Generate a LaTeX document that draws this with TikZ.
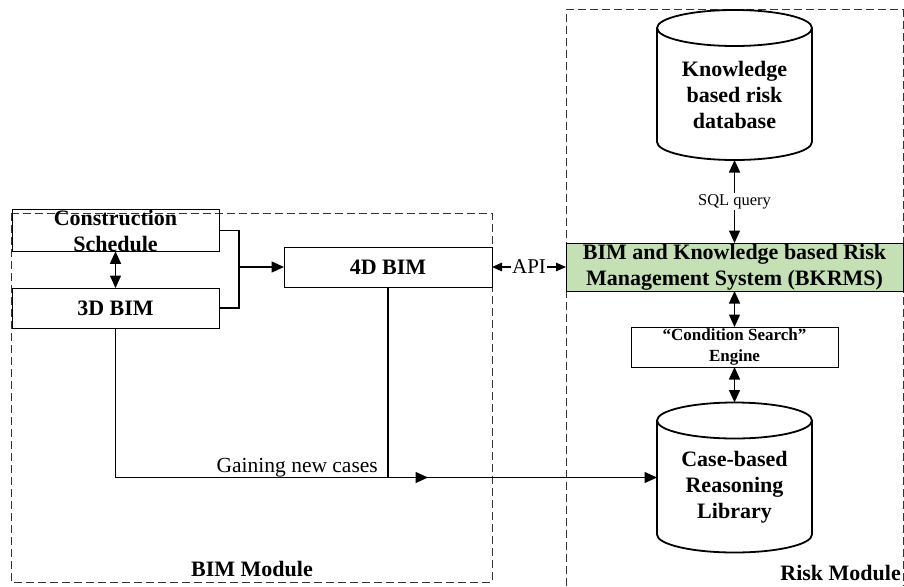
\documentclass[tikz,border=0pt]{standalone}
\usepackage{fontspec}
\setmainfont{Liberation Serif}
\usetikzlibrary{arrows.meta,calc}
\definecolor{bkgreen}{RGB}{197,224,180}
\newcommand\bigbf{\fontsize{22}{26}\selectfont\bfseries}
\newcommand\midbf{\fontsize{17}{21}\selectfont\bfseries}
\newcommand\drawcyl[1]{%
  \draw[cylline] ($(#1.north)+(0,18)$) ellipse[x radius=77.5pt, y radius=18pt];
  \draw[cylline] ($(#1.north west)+(0,18)$) -- ($(#1.south west)+(0,-18)$)
     arc[start angle=180, end angle=360, x radius=77.5pt, y radius=18pt]
     -- ($(#1.north east)+(0,18)$);
}
\tikzset{
  box/.style={draw, line width=1pt, inner sep=0pt, outer sep=0pt, align=center, font=\bigbf},
  cylbox/.style={inner sep=0pt, outer sep=0pt, minimum width=155pt, minimum height=150pt},
  cyltext/.style={inner sep=0pt, align=center, font=\bigbf},
  cylline/.style={line width=1.8pt},
  conn/.style={line width=1.4pt},
  tip/.style={-{Triangle[length=12.5pt,width=11pt]}},
  dtip/.style={{Triangle[length=12.5pt,width=11pt]}-{Triangle[length=12.5pt,width=11pt]}},
  stip/.style={{Triangle[length=10pt,width=8.5pt]}-{Triangle[length=10pt,width=8.5pt]}},
  module/.style={line width=1pt, draw=black!80, dash pattern=on 8pt off 4pt},
  lbl/.style={fill=white, inner sep=1.5pt},
}
\begin{document}
\begin{tikzpicture}[x=1pt,y=-1pt]
\useasboundingbox (0,0) rectangle (904,586);

% module frames
\draw[module] (11,213) rectangle (492,582);
\draw[module] (566,586) -- (566,10) -- (903,10) -- (903,586);

% BIM side
\node[box, minimum width=207pt, minimum height=41pt] (cs) at (115.5,230.5) {Construction\\Schedule};
\node[box, minimum width=207pt, minimum height=40pt] (bimthree) at (115.5,308) {3D BIM};
\node[box, minimum width=208pt, minimum height=40pt] (bimfour) at (388,267) {4D BIM};

% Risk side
\node[box, fill=bkgreen, minimum width=337pt, minimum height=48pt] (bk) at (734.5,267)
  {BIM and Knowledge based Risk\\Management System (BKRMS)};
\node[box, font=\midbf, minimum width=207pt, minimum height=40pt] (eng) at (734.5,347)
  {“Condition Search”\\Engine};
\node[cylbox] (kdb) at (734.5,85) {};
\drawcyl{kdb}
\node[cyltext] (kdbt) at (734.5,95) {Knowledge\\based risk\\database};
\node[cylbox] (cbr) at (734.5,477.5) {};
\drawcyl{cbr}
\node[cyltext] (cbrt) at (734.5,487.5) {Case-based\\Reasoning\\Library};

% connectors
\draw[conn, dtip] (cs.south) -- (bimthree.north);
\coordinate (br) at ($(cs.east)+(20,0)$);
\draw[conn] (cs.east) -- (br) |- (bimthree.east);
\draw[conn, tip] (br |- bimfour.west) -- (bimfour.west);

\draw[conn, stip] (bimfour.east) -- node[lbl, font=\fontsize{21}{24}\selectfont] (api) {API} (bk.west);
\draw[conn, dtip] (kdb.south) -- node[lbl, font=\fontsize{16.5}{19}\selectfont] (sql) {SQL query} (bk.north);
\draw[conn, dtip] (bk.south) -- (eng.north);
\draw[conn, dtip] (eng.south) -- (cbr.north);

\coordinate (join) at (bimfour.south |- cbr.west);
\draw[conn, tip] (bimthree.south) |- (cbr.west);
\draw[conn] (bimfour.south) -- (join);
\draw[conn, tip] (join) -- ++(40,0);
\node[anchor=base east, inner sep=0pt, font=\fontsize{21.5}{24}\selectfont] (gain) at ($(join)+(-10,-5)$) {Gaining new cases};

% module labels
\node[font=\bigbf, inner sep=0pt] (bimmod) at (252,569) {BIM Module};
\node[font=\bigbf, inner sep=0pt, anchor=east] (riskmod) at (901,573) {Risk Module};
\end{tikzpicture}
\end{document}
